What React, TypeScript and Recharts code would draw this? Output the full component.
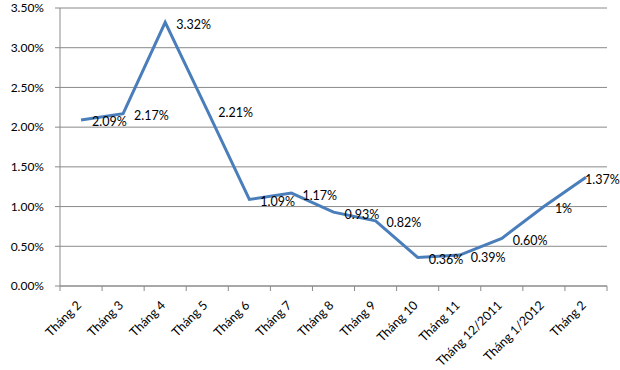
import React from "react";
import { LineChart, Line, XAxis, YAxis, CartesianGrid, LabelList } from "recharts";

const months = [
  "Tháng 2",
  "Tháng 3",
  "Tháng 4",
  "Tháng 5",
  "Tháng 6",
  "Tháng 7",
  "Tháng 8",
  "Tháng 9",
  "Tháng 10",
  "Tháng 11",
  "Tháng 12/2011",
  "Tháng 1/2012",
  "Tháng 2",
];
const rates = [2.09, 2.17, 3.32, 2.21, 1.09, 1.17, 0.93, 0.82, 0.36, 0.39, 0.6, 1.0, 1.37];
const rateLabels = [
  "2.09%",
  "2.17%",
  "3.32%",
  "2.21%",
  "1.09%",
  "1.17%",
  "0.93%",
  "0.82%",
  "0.36%",
  "0.39%",
  "0.60%",
  "1%",
  "1.37%",
];
const yTicks = [0, 0.5, 1, 1.5, 2, 2.5, 3, 3.5];

const data = months.map((m, i) => ({ pos: i + 0.5, month: m, rate: rates[i], label: rateLabels[i] }));
const xTicks: number[] = [];
for (let i = 0; i <= months.length * 2; i++) xTicks.push(i / 2);

const FONT = "Lato, 'Open Sans', sans-serif";
const GRID = "#8a8a8a";
const LINE = "#4a7ebb";

const XTick = (props: any) => {
  const { x, y, payload } = props;
  const v: number = payload.value;
  if (Number.isInteger(v)) {
    return <line x1={x} y1={y} x2={x} y2={y + 5} stroke={GRID} strokeWidth={1} />;
  }
  const label = months[Math.floor(v)];
  const tx = x + 1;
  const ty = y + 20;
  return (
    <text
      x={tx}
      y={ty}
      transform={`rotate(-45, ${tx}, ${ty})`}
      textAnchor="end"
      fontSize={12.5}
      fontFamily={FONT}
      fill="#000"
    >
      {label}
    </text>
  );
};

const DataLabel = (props: any) => {
  const { x, y, value, index } = props;
  const last = index === months.length - 1;
  return (
    <text
      x={x + (last ? -1 : 11)}
      y={y + 2}
      dominantBaseline="central"
      textAnchor="start"
      fontSize={12.5}
      fontFamily={FONT}
      fill="#000"
    >
      {value}
    </text>
  );
};

export default function App() {
  return (
    <div style={{ width: 620, height: 370 }}>
      <style>{"body{margin:0}"}</style>
      <LineChart width={620} height={370} data={data} margin={{ top: 8, right: 13, bottom: 0, left: 0 }}>
        <CartesianGrid vertical={false} stroke={GRID} strokeWidth={1} />
        <XAxis
          dataKey="pos"
          type="number"
          domain={[0, months.length]}
          ticks={xTicks}
          interval={0}
          tick={<XTick />}
          tickLine={false}
          tickSize={0}
          tickMargin={0}
          height={84}
          axisLine={{ stroke: GRID }}
        />
        <YAxis
          domain={[0, 3.5]}
          ticks={yTicks}
          interval={0}
          width={60}
          tickSize={5}
          tickMargin={11}
          tickFormatter={(v: number) => v.toFixed(2) + "%"}
          tick={{ fontSize: 12, fontFamily: FONT, fill: "#000" }}
          axisLine={{ stroke: GRID }}
          tickLine={{ stroke: GRID }}
        />
        <Line
          dataKey="rate"
          stroke={LINE}
          strokeWidth={3}
          dot={false}
          isAnimationActive={false}
          strokeLinejoin="miter"
        >
          <LabelList dataKey="label" content={<DataLabel />} />
        </Line>
      </LineChart>
    </div>
  );
}
